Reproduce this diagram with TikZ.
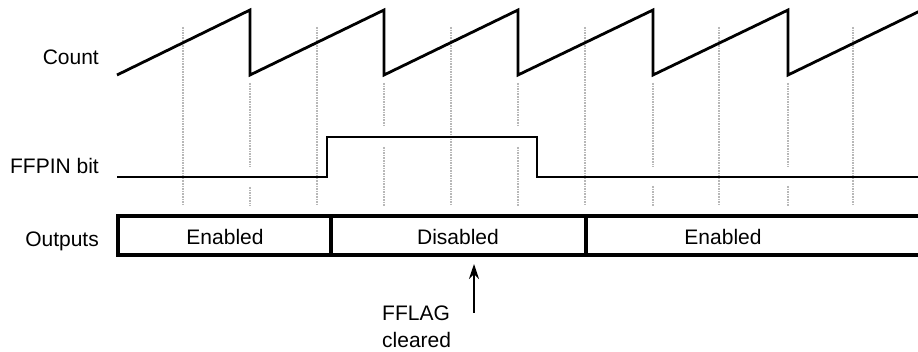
\documentclass[tikz,border=0pt]{standalone}
\usepackage{fontspec}
\setmainfont{Liberation Sans}
\usetikzlibrary{arrows.meta}
\begin{document}
\begin{tikzpicture}[x=1pt,y=-1pt,
  sig/.style={line width=2.8pt},
  boxline/.style={line width=3.2pt},
  gridline/.style={black!28, line width=1.5pt, dash pattern=on 1.6pt off 1pt},
  lbl/.style={font=\fontsize{21}{25}\selectfont, inner sep=0pt}]
\useasboundingbox (0,0) rectangle (918,352);
\clip (0,0) rectangle (918,352);

% dotted grid lines (mid-ramp)
\foreach \x in {183,317,451,585,719,853}
  \draw[gridline] (\x,27) -- (\x,205);
% grid lines at the resets, broken where signals cross
\foreach \x/\ga/\gb in {250/167/187, 384/127/147, 518/127/147, 653/167/186, 788/167/186}{
  \draw[gridline] (\x,83) -- (\x,\ga);
  \draw[gridline] (\x,\gb) -- (\x,206);
}

% Count sawtooth
\draw[sig] (117,75) -- (250,10) -- (250,75) -- (384,10) -- (384,75)
  -- (518,10) -- (518,75) -- (653,10) -- (653,75) -- (788,10) -- (788,75) -- (922,10);

% FFPIN bit
\draw[sig] (117,177) -- (327,177) -- (327,137) -- (537,137) -- (537,177) -- (922,177);

% Outputs bar
\draw[boxline] (922,216) -- (118,216) -- (118,255) -- (922,255);
\draw[boxline] (331,216) -- (331,255);
\draw[line width=4pt] (586,216) -- (586,255);

% labels
\node[lbl, anchor=base east] (count) at (99,65) {Count};
\node[lbl, anchor=base east] (ffpin) at (99,174) {FFPIN bit};
\node[lbl, anchor=base east] (outputs) at (99,247) {Outputs};

\node[lbl, anchor=base] (en1) at (225,245) {Enabled};
\node[lbl, anchor=base] (dis) at (458,245) {Disabled};
\node[lbl, anchor=base] (en2) at (723,245) {Enabled};

\node[lbl, anchor=base west] (fflag) at (382,321) {FFLAG};
\node[lbl, anchor=base west] (cleared) at (382,348) {cleared};

\coordinate (arrtail) at (474,313);
\coordinate (arrtip) at (474,264);
\draw[line width=2pt, -{Stealth[length=15pt,width=10pt]}] (arrtail) -- (arrtip);
\end{tikzpicture}
\end{document}
